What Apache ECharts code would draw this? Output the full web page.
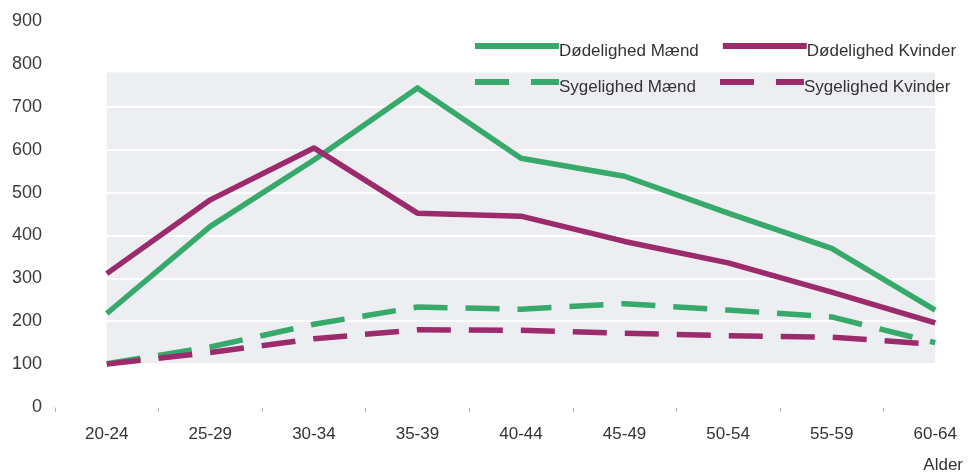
<!DOCTYPE html>
<html><head><meta charset="utf-8">
<script src="https://cdn.jsdelivr.net/npm/echarts@6/dist/echarts.min.js"></script>
<style>html,body{margin:0;padding:0;background:#fff;overflow:hidden;width:977px;height:474px}#c{width:987px;height:474px}</style>
</head><body><div id="c"></div>
<script>
const categories = ['20-24','25-29','30-34','35-39','40-44','45-49','50-54','55-59','60-64'];
const yTicks = [0,100,200,300,400,500,600,700,800,900];
const doedMaend   = [218, 421, 576, 744, 580, 538, 452, 370, 226];
const doedKvinder = [311, 483, 604, 452, 445, 386, 336, 268, 196];
const sygMaend    = [101, 140, 193, 233, 228, 241, 226, 210, 150];
const sygKvinder  = [100, 127, 159, 180, 179, 172, 166, 163, 146];
const names = ['Dødelighed Mænd','Dødelighed Kvinder','Sygelighed Mænd','Sygelighed Kvinder'];
const xName = 'Alder';
const bandRange = [100, 780];

const GREEN = '#36a96b', MAG = '#9b2b6c';
const FONT = '"Liberation Sans", Arial, sans-serif';
const ICON_SOLID  = 'path://M0,0H84V6H0Z M0,17H0.01V17.01H0Z';
const ICON_DASHED = 'path://M0,0H34V6H0Z M56,0H84V6H56Z M0,17H0.01V17.01H0Z';
const chart = echarts.init(document.getElementById('c'), null, {renderer:'canvas'});
function lineSeries(name, data, color, dashed){
  return {name, type:'line', data, symbol:'none', z:3,
    lineStyle:{color, width:5.5, type: dashed ? [34,18] : 'solid', cap:'butt', join:'round'},
    itemStyle:{color}};
}
const legendBase = {itemWidth:84, itemHeight:17, itemGap:24, left:470,
  textStyle:{fontFamily:FONT, fontSize:17, color:'#333', padding:[0,0,0,-5]}};
chart.setOption({
  animation:false,
  title:{text:xName, right:19, top:452, textStyle:{fontFamily:FONT, fontSize:17, fontWeight:'normal', color:'#333'}},
  legend:[
    Object.assign({}, legendBase, {top:38, data:[{name:names[0], icon:ICON_SOLID},{name:names[1], icon:ICON_SOLID}]}),
    Object.assign({}, legendBase, {top:74, data:[{name:names[2], icon:ICON_DASHED},{name:names[3], icon:ICON_DASHED}]})
  ],
  grid:{left:55, right:0, top:21, bottom:67},
  xAxis:{type:'category', data:categories, boundaryGap:true,
    axisLine:{lineStyle:{color:'#9a9a9a', width:1}},
    axisTick:{show:true, length:5, lineStyle:{color:'#b0b0b0'}},
    axisLabel:{fontFamily:FONT, fontSize:17, color:'#333', margin:19}},
  yAxis:{type:'value', min:yTicks[0], max:yTicks[yTicks.length-1], interval:100, z:2,
    axisLine:{show:false}, axisTick:{show:false},
    axisLabel:{fontFamily:FONT, fontSize:18, color:'#3a3a3a', margin:13},
    splitLine:{show:true, lineStyle:{color:'#ffffff', width:2}}},
  series:[
    {type:'line', data:[], z:1, silent:true,
      markArea:{silent:true, itemStyle:{color:'#eceef1'},
        data:[[{xAxis:categories[0], yAxis:bandRange[0]},{xAxis:categories[categories.length-1], yAxis:bandRange[1]}]]}},
    lineSeries(names[0], doedMaend, GREEN, false),
    lineSeries(names[1], doedKvinder, MAG, false),
    lineSeries(names[2], sygMaend, GREEN, true),
    lineSeries(names[3], sygKvinder, MAG, true)
  ]
});
</script></body></html>
